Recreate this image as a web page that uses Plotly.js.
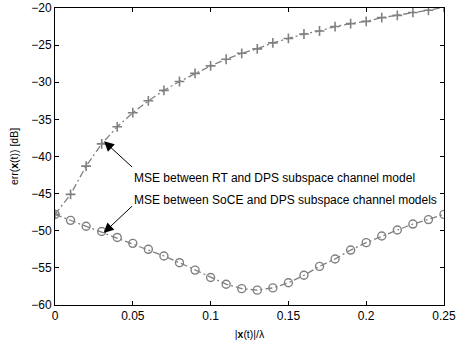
<!DOCTYPE html>
<html>
<head>
<meta charset="utf-8">
<script src="https://cdn.plot.ly/plotly-3.0.1.min.js"></script>
<style>html,body{margin:0;padding:0;background:#fff;}#chart{width:459px;height:345px;}</style>
</head>
<body>
<div id="chart"></div>
<script>
var xValues = [0, 0.01, 0.02, 0.03, 0.04, 0.05, 0.06, 0.07, 0.08, 0.09, 0.10, 0.11, 0.12, 0.13, 0.14, 0.15, 0.16, 0.17, 0.18, 0.19, 0.20, 0.21, 0.22, 0.23, 0.24, 0.25];
var mseRT = [-47.8, -45.1, -41.3, -38.3, -36.0, -34.1, -32.5, -31.1, -29.9, -28.8, -27.8, -26.9, -26.1, -25.5, -24.7, -24.1, -23.5, -23.1, -22.5, -22.1, -21.8, -21.3, -21.0, -20.6, -20.3, -19.9];
var mseSoCE = [-47.8, -48.6, -49.4, -50.1, -50.9, -51.7, -52.5, -53.4, -54.3, -55.3, -56.3, -57.2, -57.8, -58.0, -57.7, -57.0, -56.0, -54.8, -53.8, -52.6, -51.6, -50.7, -49.9, -49.1, -48.5, -47.8];
var xTicks = [0, 0.05, 0.1, 0.15, 0.2, 0.25];
var xTickLabels = ['0', '0.05', '0.1', '0.15', '0.2', '0.25'];
var yTicks = [-60, -55, -50, -45, -40, -35, -30, -25, -20];
var labelRT = 'MSE between RT and DPS subspace channel model';
var labelSoCE = 'MSE between SoCE and DPS subspace channel models';

var gray = '#808080';
var traces = [
  {x: xValues, y: mseRT, mode: 'lines+markers', type: 'scatter',
   line: {color: gray, width: 1.3, dash: '7px,3px,2px,3px'},
   marker: {symbol: 'cross-thin-open', size: 7, line: {color: gray, width: 1.6}}},
  {x: xValues, y: mseSoCE, mode: 'lines+markers', type: 'scatter',
   line: {color: gray, width: 1.3, dash: '7px,3px,2px,3px'},
   marker: {symbol: 'circle-open', size: 8, color: gray, line: {color: gray, width: 1.4}}}
];

var font = {family: 'Liberation Sans, Arial, sans-serif', size: 12, color: '#000'};
var layout = {
  width: 459, height: 345,
  margin: {l: 55, r: 15, t: 8, b: 40},
  showlegend: false,
  paper_bgcolor: '#fff', plot_bgcolor: '#fff',
  font: font,
  xaxis: {range: [0, 0.25], tickvals: xTicks, ticktext: xTickLabels, ticks: 'inside', ticklen: 4,
          tickcolor: '#000', showline: true, linecolor: '#000', linewidth: 1, mirror: 'ticks',
          showgrid: false, zeroline: false, tickfont: {family: font.family, size: 12},
          title: {text: '|<b>x</b>(t)|/λ', font: {family: font.family, size: 10.5}, standoff: 8}},
  yaxis: {range: [-60, -20], tickvals: yTicks, ticks: 'inside', ticklen: 4,
          tickcolor: '#000', showline: true, linecolor: '#000', linewidth: 1, mirror: 'ticks',
          showgrid: false, zeroline: false, tickfont: {family: font.family, size: 12},
          title: {text: 'err(<b>x</b>(t)) [dB]', font: {family: font.family, size: 10.5}, standoff: 10}},
  annotations: [
    {x: 0.0315, y: -37.95, ax: 0.0505, ay: -41.6, xref: 'x', yref: 'y', axref: 'x', ayref: 'y',
     text: '', showarrow: true, arrowhead: 2, arrowsize: 2, arrowwidth: 1, arrowcolor: '#000'},
    {x: 0.0312, y: -50.3, ax: 0.0505, ay: -46.5, xref: 'x', yref: 'y', axref: 'x', ayref: 'y',
     text: '', showarrow: true, arrowhead: 2, arrowsize: 2, arrowwidth: 1, arrowcolor: '#000'},
    {x: 0.0495, y: -42.95, xref: 'x', yref: 'y', text: labelRT, showarrow: false,
     xanchor: 'left', yanchor: 'middle', font: {family: font.family, size: 12, color: '#000'}},
    {x: 0.0495, y: -45.9, xref: 'x', yref: 'y', text: labelSoCE, showarrow: false,
     xanchor: 'left', yanchor: 'middle', font: {family: font.family, size: 12, color: '#000'}}
  ]
};
Plotly.newPlot('chart', traces, layout, {staticPlot: true, displayModeBar: false});
</script>
</body>
</html>
